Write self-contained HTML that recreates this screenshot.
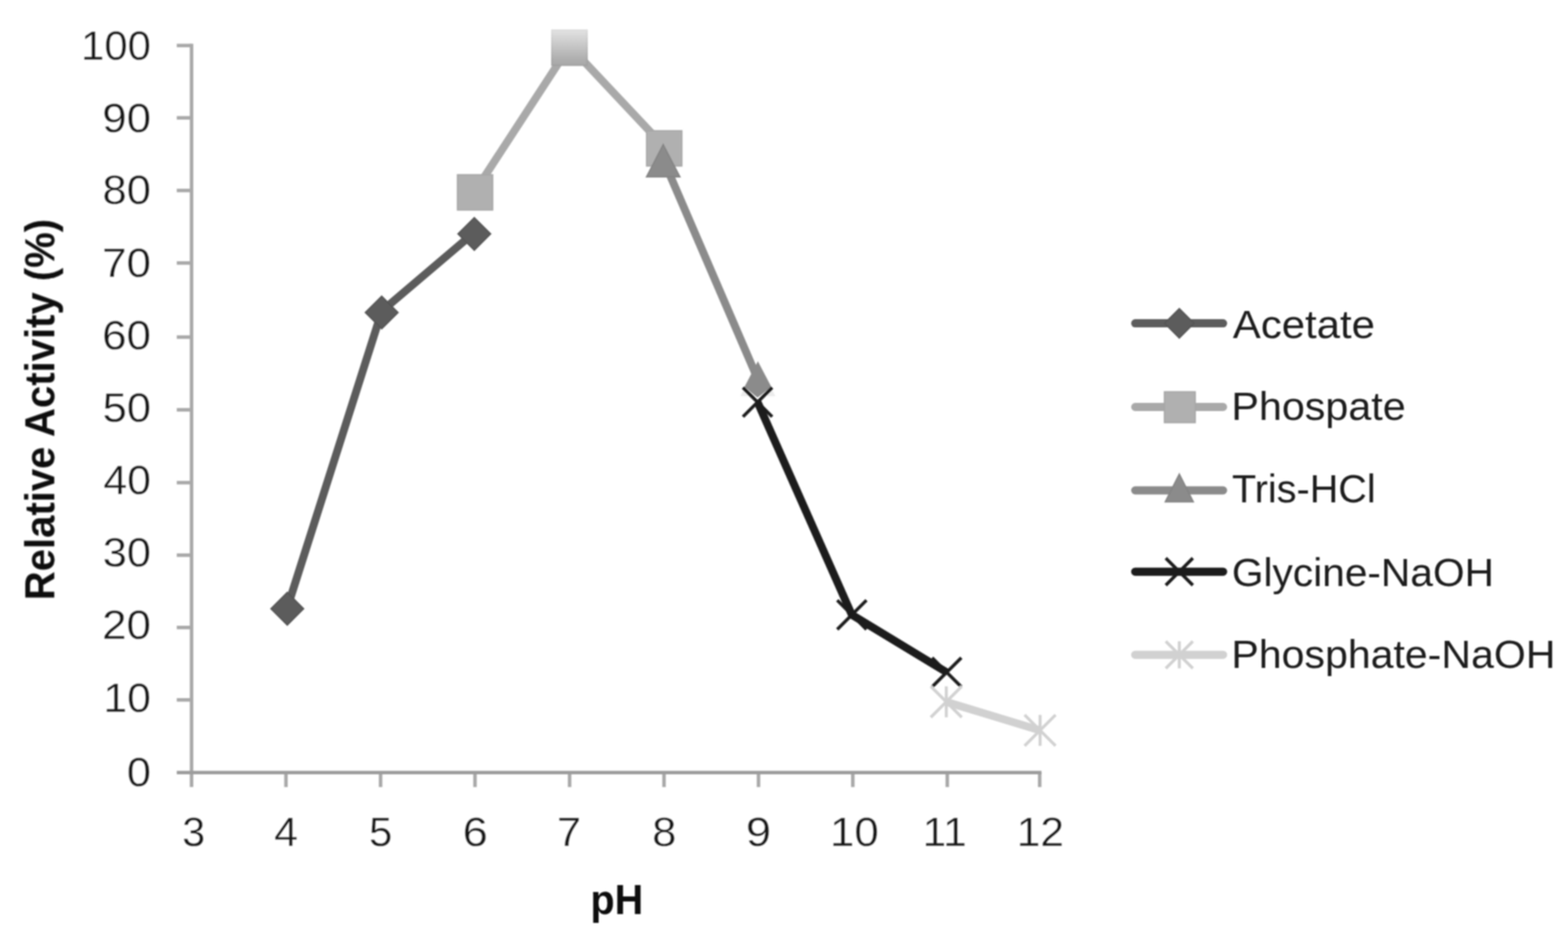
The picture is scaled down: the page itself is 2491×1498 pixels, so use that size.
<!DOCTYPE html><html lang="en"><head><meta charset="utf-8"><title>Relative Activity vs pH</title><style>html,body{margin:0;padding:0;background:#fff}body{width:2491px;height:1498px;overflow:hidden}svg{display:block}</style></head><body><svg width="2491" height="1498" viewBox="0 0 2491 1498">
<defs><filter id="b" x="-2%" y="-2%" width="104%" height="104%" filterUnits="objectBoundingBox"><feGaussianBlur stdDeviation="1.2"/></filter><linearGradient id="g7" x1="0" y1="0" x2="0" y2="1"><stop offset="0" stop-color="#e2e2e2"/><stop offset="0.85" stop-color="#adadad"/><stop offset="1" stop-color="#a9a9a9"/></linearGradient><linearGradient id="g7s" x1="0" y1="0" x2="0" y2="1"><stop offset="0" stop-color="#dcdcdc"/><stop offset="0.85" stop-color="#a2a2a2"/><stop offset="1" stop-color="#a0a0a0"/></linearGradient></defs>
<rect width="2491" height="1498" fill="#fff"/>
<g filter="url(#b)">
<g fill="none" stroke-width="5.6">
<path stroke="#a9a9a9" d="M304.3 69.5 V1250.3"/>
<path stroke="#a9a9a9" d="M280.8 1111.8 H304.3"/>
<path stroke="#a9a9a9" d="M280.8 996.8 H304.3"/>
<path stroke="#a9a9a9" d="M280.8 881.9 H304.3"/>
<path stroke="#a9a9a9" d="M280.8 766.7 H304.3"/>
<path stroke="#a9a9a9" d="M280.8 651.0 H304.3"/>
<path stroke="#a9a9a9" d="M280.8 535.5 H304.3"/>
<path stroke="#a9a9a9" d="M280.8 417.8 H304.3"/>
<path stroke="#a9a9a9" d="M280.8 302.6 H304.3"/>
<path stroke="#a9a9a9" d="M280.8 187.2 H304.3"/>
<path stroke="#a9a9a9" d="M280.8 72.3 H304.3"/>
<path stroke="#a9a9a9" d="M454.3 1227.3 V1250.3"/>
<path stroke="#a9a9a9" d="M604.6 1227.3 V1250.3"/>
<path stroke="#a9a9a9" d="M754.6 1227.3 V1250.3"/>
<path stroke="#a9a9a9" d="M904.9 1227.3 V1250.3"/>
<path stroke="#a9a9a9" d="M1054.9 1227.3 V1250.3"/>
<path stroke="#a9a9a9" d="M1205.0 1227.3 V1250.3"/>
<path stroke="#a9a9a9" d="M1354.8 1227.3 V1250.3"/>
<path stroke="#a9a9a9" d="M1504.9 1227.3 V1250.3"/>
<path stroke="#a9a9a9" d="M1651.7 1227.3 V1250.3"/>
<path stroke="#9c9c9c" d="M280.8 1227.3 H1654.5"/>
</g>
<polyline points="456.7,964.5 606.7,493.9 753.8,369.1" fill="none" stroke="#5b5b5b" stroke-width="12.5" stroke-linejoin="round" stroke-linecap="butt"/>
<path d="M430.5 967.0 L456.4 941.1 L482.3 967.0 L456.4 992.9Z" fill="#5b5b5b" stroke="#565656" stroke-width="2.2" stroke-linejoin="miter"/>
<path d="M580.5 496.4 L606.4 470.5 L632.3 496.4 L606.4 522.3Z" fill="#5b5b5b" stroke="#565656" stroke-width="2.2" stroke-linejoin="miter"/>
<path d="M727.6 371.6 L753.5 345.7 L779.4 371.6 L753.5 397.5Z" fill="#5b5b5b" stroke="#565656" stroke-width="2.2" stroke-linejoin="miter"/>
<polyline points="755.0,303.1 905.0,73.2 1055.5,233.2" fill="none" stroke="#a9a9a9" stroke-width="12.5" stroke-linejoin="round" stroke-linecap="butt"/>
<rect x="726.8" y="277.7" width="55.8" height="55.8" fill="#b0b0b0" stroke="#a7a7a7" stroke-width="2.2"/>
<rect x="876.8" y="47.8" width="55.8" height="55.8" fill="url(#g7)" stroke="url(#g7s)" stroke-width="2.2"/>
<rect x="1027.3" y="207.8" width="55.8" height="55.8" fill="#b0b0b0" stroke="#a7a7a7" stroke-width="2.2"/>
<polyline points="1053.3,252.5 1204.0,602.6" fill="none" stroke="#8b8b8b" stroke-width="12.5" stroke-linejoin="round" stroke-linecap="butt"/>
<path d="M1027.1 280.9 L1053.6 229.7 L1080.1 280.9Z" fill="#8b8b8b" stroke="#848484" stroke-width="2.2" stroke-linejoin="miter"/>
<path d="M1176.2 629.5 L1204 572.8 L1231.8 629.5Z" fill="#8b8b8b" fill-opacity="0.16"/>
<path d="M1204 574 L1182.8 614.5 L1203.4 631.5 L1225.4 614.5Z" fill="#8b8b8b"/>
<polyline points="1203.5,638.8 1353.3,976.7 1504.0,1068.0" fill="none" stroke="#1c1c1c" stroke-width="12.5" stroke-linejoin="round" stroke-linecap="butt"/>
<path d="M1180.3 615.6 L1226.7 662.0 M1180.3 662.0 L1226.7 615.6" stroke="#1c1c1c" stroke-width="5.2" fill="none"/>
<path d="M1330.1 953.5 L1376.5 999.9 M1330.1 999.9 L1376.5 953.5" stroke="#1c1c1c" stroke-width="5.2" fill="none"/>
<path d="M1480.8 1044.8 L1527.2 1091.2 M1480.8 1091.2 L1527.2 1044.8" stroke="#1c1c1c" stroke-width="5.2" fill="none"/>
<polyline points="1503.3,1114.9 1652.3,1160.2" fill="none" stroke="#d1d1d1" stroke-width="12.5" stroke-linejoin="round" stroke-linecap="butt"/>
<path d="M1478.7 1090.3 L1527.9 1139.5 M1478.7 1139.5 L1527.9 1090.3" stroke="#d1d1d1" stroke-width="4.8" fill="none"/>
<path d="M1503.3 1090.3 V1139.5" stroke="#d1d1d1" stroke-width="4.8" fill="none"/>
<path d="M1627.7 1135.6 L1676.9 1184.8 M1627.7 1184.8 L1676.9 1135.6" stroke="#d1d1d1" stroke-width="4.8" fill="none"/>
<path d="M1652.3 1135.6 V1184.8" stroke="#d1d1d1" stroke-width="4.8" fill="none"/>
<path d="M1803.5 513.6 H1943.0" stroke="#5b5b5b" stroke-width="13" stroke-linecap="round" fill="none"/>
<path d="M1850.1 513.6 L1873.5 490.2 L1896.9 513.6 L1873.5 537.0Z" fill="#5b5b5b" stroke="#565656" stroke-width="2.2" stroke-linejoin="miter"/>
<path d="M1803.5 646.5 H1943.0" stroke="#a9a9a9" stroke-width="13" stroke-linecap="round" fill="none"/>
<rect x="1849.9" y="622.5" width="48.8" height="48.8" fill="#b0b0b0" stroke="#a7a7a7" stroke-width="2.2"/>
<path d="M1803.5 779.0 H1943.0" stroke="#8b8b8b" stroke-width="13" stroke-linecap="round" fill="none"/>
<path d="M1851.3 797.1 L1873.5 753.2 L1895.7 797.1Z" fill="#8b8b8b" stroke="#848484" stroke-width="2.2" stroke-linejoin="miter"/>
<path d="M1803.5 908.2 H1943.0" stroke="#1c1c1c" stroke-width="13" stroke-linecap="round" fill="none"/>
<path d="M1852.0 886.7 L1895.0 929.7 M1852.0 929.7 L1895.0 886.7" stroke="#1c1c1c" stroke-width="5.2" fill="none"/>
<path d="M1803.5 1040.2 H1943.0" stroke="#d1d1d1" stroke-width="13" stroke-linecap="round" fill="none"/>
<path d="M1852.0 1018.7 L1895.0 1061.7 M1852.0 1061.7 L1895.0 1018.7" stroke="#d1d1d1" stroke-width="4.8" fill="none"/>
<path d="M1873.5 1018.7 V1061.7" stroke="#d1d1d1" stroke-width="4.8" fill="none"/>
<text transform="translate(128.73 94.90) scale(1.0195 1)" font-family="Liberation Sans, sans-serif" font-size="65.3" stroke="#fff" stroke-width="0.35" fill="#181818">100</text>
<text transform="translate(162.54 209.80) scale(1.0653 1)" font-family="Liberation Sans, sans-serif" font-size="65.3" stroke="#fff" stroke-width="0.35" fill="#181818">90</text>
<text transform="translate(162.79 324.10) scale(1.0618 1)" font-family="Liberation Sans, sans-serif" font-size="65.3" stroke="#fff" stroke-width="0.35" fill="#181818">80</text>
<text transform="translate(162.22 440.10) scale(1.0699 1)" font-family="Liberation Sans, sans-serif" font-size="65.3" stroke="#fff" stroke-width="0.35" fill="#181818">70</text>
<text transform="translate(162.25 555.20) scale(1.0694 1)" font-family="Liberation Sans, sans-serif" font-size="65.3" stroke="#fff" stroke-width="0.35" fill="#181818">60</text>
<text transform="translate(163.03 670.30) scale(1.0583 1)" font-family="Liberation Sans, sans-serif" font-size="65.3" stroke="#fff" stroke-width="0.35" fill="#181818">50</text>
<text transform="translate(164.24 785.40) scale(1.0411 1)" font-family="Liberation Sans, sans-serif" font-size="65.3" stroke="#fff" stroke-width="0.35" fill="#181818">40</text>
<text transform="translate(163.17 900.20) scale(1.0563 1)" font-family="Liberation Sans, sans-serif" font-size="65.3" stroke="#fff" stroke-width="0.35" fill="#181818">30</text>
<text transform="translate(162.29 1015.20) scale(1.0689 1)" font-family="Liberation Sans, sans-serif" font-size="65.3" stroke="#fff" stroke-width="0.35" fill="#181818">20</text>
<text transform="translate(164.33 1131.20) scale(1.0398 1)" font-family="Liberation Sans, sans-serif" font-size="65.3" stroke="#fff" stroke-width="0.35" fill="#181818">10</text>
<text transform="translate(201.50 1249.40) scale(1.0572 1)" font-family="Liberation Sans, sans-serif" font-size="65.3" stroke="#fff" stroke-width="0.35" fill="#181818">0</text>
<text transform="translate(289.40 1344.30) scale(1.0045 1)" font-family="Liberation Sans, sans-serif" font-size="65.3" stroke="#fff" stroke-width="0.35" fill="#181818">3</text>
<text transform="translate(435.44 1344.30) scale(1.0424 1)" font-family="Liberation Sans, sans-serif" font-size="65.3" stroke="#fff" stroke-width="0.35" fill="#181818">4</text>
<text transform="translate(586.14 1344.30) scale(1.0174 1)" font-family="Liberation Sans, sans-serif" font-size="65.3" stroke="#fff" stroke-width="0.35" fill="#181818">5</text>
<text transform="translate(735.05 1344.30) scale(1.1019 1)" font-family="Liberation Sans, sans-serif" font-size="65.3" stroke="#fff" stroke-width="0.35" fill="#181818">6</text>
<text transform="translate(884.66 1344.30) scale(1.0578 1)" font-family="Liberation Sans, sans-serif" font-size="65.3" stroke="#fff" stroke-width="0.35" fill="#181818">7</text>
<text transform="translate(1035.89 1344.30) scale(1.0607 1)" font-family="Liberation Sans, sans-serif" font-size="65.3" stroke="#fff" stroke-width="0.35" fill="#181818">8</text>
<text transform="translate(1185.03 1344.30) scale(1.1007 1)" font-family="Liberation Sans, sans-serif" font-size="65.3" stroke="#fff" stroke-width="0.35" fill="#181818">9</text>
<text transform="translate(1318.48 1344.30) scale(1.0690 1)" font-family="Liberation Sans, sans-serif" font-size="65.3" stroke="#fff" stroke-width="0.35" fill="#181818">10</text>
<text transform="translate(1465.66 1344.30) scale(1.0330 1)" font-family="Liberation Sans, sans-serif" font-size="65.3" stroke="#fff" stroke-width="0.35" fill="#181818">11</text>
<text transform="translate(1615.15 1344.30) scale(1.0346 1)" font-family="Liberation Sans, sans-serif" font-size="65.3" stroke="#fff" stroke-width="0.35" fill="#181818">12</text>
<text transform="translate(1958.57 536.70) scale(1.0481 1)" font-family="Liberation Sans, sans-serif" font-size="63.5" fill="#1a1a1a">Acetate</text>
<text transform="translate(1956.22 666.50) scale(1.0323 1)" font-family="Liberation Sans, sans-serif" font-size="63.5" fill="#1a1a1a">Phospate</text>
<text transform="translate(1957.29 798.40) scale(0.9908 1)" font-family="Liberation Sans, sans-serif" font-size="63.5" fill="#1a1a1a">Tris-HCl</text>
<text transform="translate(1956.95 930.90) scale(1.0174 1)" font-family="Liberation Sans, sans-serif" font-size="63.5" fill="#1a1a1a">Glycine-NaOH</text>
<text transform="translate(1956.25 1060.70) scale(1.0271 1)" font-family="Liberation Sans, sans-serif" font-size="63.5" fill="#1a1a1a">Phosphate-NaOH</text>
<text transform="translate(938.05 1452.40) scale(0.9535 1)" font-family="Liberation Sans, sans-serif" font-size="66" font-weight="bold" fill="#0c0c0c">pH</text>
<text transform="translate(86.20 953.46) rotate(-90) scale(0.9641 1)" font-family="Liberation Sans, sans-serif" font-size="66" font-weight="bold" fill="#0c0c0c">Relative Activity (%)</text>
</g></svg></body></html>
